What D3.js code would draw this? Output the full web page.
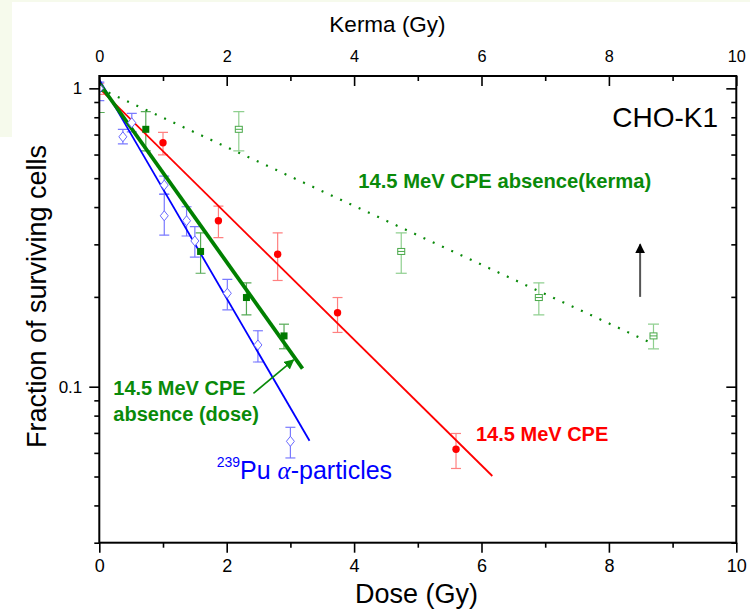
<!DOCTYPE html>
<html><head><meta charset="utf-8">
<script src="https://cdn.jsdelivr.net/npm/d3@7"></script>
<style>
html,body{margin:0;padding:0;background:#fff;}
svg{display:block;font-family:"Liberation Sans",Arial,sans-serif;}
</style></head>
<body><svg id="c" width="750" height="609"></svg>
<script>
// ---------- data ----------
const xTicks = [0, 2, 4, 6, 8, 10];
const xMinor = [1, 3, 5, 7, 9];
const yTicks = [1, 0.1];
const yTickLabels = ["1", "0.1"];
const yMinor = [0.9, 0.8, 0.7, 0.6, 0.5, 0.4, 0.3, 0.2, 0.09, 0.08, 0.07, 0.06, 0.05, 0.04, 0.03];

// 14.5 MeV CPE (red)
const cpeDose = [0, 1.0, 1.87, 2.80, 3.74, 5.60];
const cpeSurv = [1.0, 0.657, 0.36, 0.278, 0.177, 0.0617];
const cpeHi   = [1.04, 0.712, 0.403, 0.328, 0.199, 0.0697];
const cpeLo   = [0.955, 0.598, 0.316, 0.227, 0.152, 0.0532];
const cpeFit  = [[0, 1.0], [6.17, 0.0502]];

// 14.5 MeV CPE absence, dose (green, filled squares)
const absDose = [0, 0.73, 1.59, 2.31, 2.90];
const absSurv = [1.0, 0.729, 0.284, 0.199, 0.148];
const absHi   = [1.17, 0.835, 0.328, 0.223, 0.162];
const absLo   = [0.83, 0.617, 0.240, 0.174, 0.134];
const absFit  = [[0, 1.04], [3.19, 0.115]];

// 14.5 MeV CPE absence, kerma (green, open squares)
const kermaDose = [0, 2.19, 4.74, 6.90, 8.70];
const kermaSurv = [1.0, 0.729, 0.284, 0.199, 0.148];
const kermaHi   = [1.17, 0.835, 0.328, 0.223, 0.162];
const kermaLo   = [0.83, 0.617, 0.240, 0.174, 0.134];
const kermaFit  = [[0, 1.0], [8.67, 0.14]];

// 239Pu alpha-particles (blue, open diamonds)
const puDose = [0, 0.37, 0.51, 1.02, 1.02, 1.37, 1.50, 2.01, 2.49, 3.00];
const puSurv = [1.0, 0.688, 0.767, 0.474, 0.374, 0.36, 0.308, 0.2056, 0.138, 0.0656];
const puHi   = [1.05, 0.729, 0.824, 0.508, 0.441, 0.401, 0.344, 0.229, 0.154, 0.0731];
const puLo   = [0.91, 0.651, 0.715, 0.442, 0.322, 0.32, 0.272, 0.181, 0.121, 0.0577];
const puFit  = [[0, 1.07], [3.30, 0.0659]];

// annotation arrows (data coords)
const blackArrow = [[8.49, 0.20], [8.49, 0.30]];
const greenArrow = [[2.42, 0.095], [3.05, 0.123]];

// ---------- layout ----------
const L = 99.3, R = 736.3, T = 76, B = 542.7;
const x = d3.scaleLinear([0, 10], [L, R]);
const y = d3.scaleLog([0.03, 1.1], [B, T]);

const svg = d3.select("#c");
svg.append("rect").attr("x",0).attr("y",0).attr("width",12).attr("height",137).attr("fill","#f6faec");
svg.append("rect").attr("x",0).attr("y",0).attr("width",750).attr("height",2).attr("fill","#f6faec");

const defs = svg.append("defs");
defs.append("clipPath").attr("id","clip").append("rect")
  .attr("x",L).attr("y",T).attr("width",R-L).attr("height",B-T);
function marker(id, color){
  defs.append("marker").attr("id",id).attr("viewBox","0 0 10 10").attr("refX",9).attr("refY",5)
    .attr("markerWidth",10).attr("markerHeight",10).attr("markerUnits","userSpaceOnUse")
    .attr("orient","auto").append("path").attr("d","M0,0 L10,5 L0,10 z").attr("fill",color);
}
marker("ahBlack","#000");
marker("ahGreen","#0a8a0a");

const plot = svg.append("g").attr("clip-path","url(#clip)");

function errBars(xs, his, los, color, w){
  const g = plot.append("g").attr("stroke",color).attr("stroke-width",1.2).attr("fill","none");
  xs.forEach((d,i)=>{
    const cx = x(d), y1 = y(his[i]), y2 = y(los[i]);
    g.append("line").attr("x1",cx).attr("x2",cx).attr("y1",y1).attr("y2",y2);
    g.append("line").attr("x1",cx-w).attr("x2",cx+w).attr("y1",y1).attr("y2",y1);
    g.append("line").attr("x1",cx-w).attr("x2",cx+w).attr("y1",y2).attr("y2",y2);
  });
}
errBars(kermaDose, kermaHi, kermaLo, "#8fcf8f", 5.5);
errBars(cpeDose, cpeHi, cpeLo, "#ff8080", 5);
errBars(absDose, absHi, absLo, "#55aa55", 5);
errBars(puDose, puHi, puLo, "#7a7aff", 5);

const line = d3.line().x(d=>x(d[0])).y(d=>y(d[1]));
plot.append("path").attr("d",line(kermaFit)).attr("stroke","#0a8a0a").attr("stroke-width",2.2)
  .attr("stroke-dasharray","2,8.2").attr("fill","none");
plot.append("path").attr("d",line(cpeFit)).attr("stroke","#ff0000").attr("stroke-width",1.8).attr("fill","none");
plot.append("path").attr("d",line(puFit)).attr("stroke","#0000ff").attr("stroke-width",1.8).attr("fill","none");
plot.append("path").attr("d",line(absFit)).attr("stroke","#008000").attr("stroke-width",3.8).attr("fill","none");

// markers
kermaDose.forEach((d,i)=>{
  const cx=x(d), cy=y(kermaSurv[i]);
  plot.append("rect").attr("x",cx-3.5).attr("y",cy-3).attr("width",7).attr("height",6)
    .attr("fill","#fff").attr("stroke","#4aa84a").attr("stroke-width",1);
  plot.append("line").attr("x1",cx-3.5).attr("x2",cx+3.5).attr("y1",cy).attr("y2",cy)
    .attr("stroke","#4aa84a").attr("stroke-width",1);
});
cpeDose.forEach((d,i)=>{
  plot.append("circle").attr("cx",x(d)).attr("cy",y(cpeSurv[i])).attr("r",3.7).attr("fill","#ff0000");
});
absDose.forEach((d,i)=>{
  plot.append("rect").attr("x",x(d)-3.5).attr("y",y(absSurv[i])-3.5).attr("width",7).attr("height",7).attr("fill","#007a00");
});
puDose.forEach((d,i)=>{
  const cx=x(d), cy=y(puSurv[i]);
  plot.append("path").attr("d",`M${cx},${cy-5} L${cx+4},${cy} L${cx},${cy+5} L${cx-4},${cy} Z`)
    .attr("fill","#fff").attr("stroke","#6a6aff").attr("stroke-width",1);
});

// arrows
svg.append("line").attr("x1",x(blackArrow[0][0])).attr("y1",y(blackArrow[0][1]))
  .attr("x2",x(blackArrow[1][0])).attr("y2",y(blackArrow[1][1]))
  .attr("stroke","#555").attr("stroke-width",2).attr("marker-end","url(#ahBlack)");
svg.append("line").attr("x1",x(greenArrow[0][0])).attr("y1",y(greenArrow[0][1]))
  .attr("x2",x(greenArrow[1][0])).attr("y2",y(greenArrow[1][1]))
  .attr("stroke","#0a8a0a").attr("stroke-width",1.6).attr("marker-end","url(#ahGreen)");

// ---------- axes ----------
function style(size){ return g => { g.select(".domain").remove(); g.attr("font-size",size).attr("font-family","Liberation Sans, Arial, sans-serif");
  g.selectAll("line").attr("stroke","#000").attr("stroke-width",1.6);
  g.selectAll("text").attr("font-size",size).attr("fill","#000"); }; }
svg.append("g").attr("transform",`translate(0,${B})`)
  .call(d3.axisBottom(x).tickValues(xTicks).tickSize(10).tickPadding(7).tickFormat(d3.format("d"))).call(style(18));
svg.append("g").attr("transform",`translate(0,${B})`)
  .call(d3.axisBottom(x).tickValues(xMinor).tickSize(5).tickFormat("")).call(style(18));
svg.append("g").attr("transform",`translate(0,${T})`)
  .call(d3.axisTop(x).tickValues(xTicks).tickSize(-10).tickPadding(14).tickFormat(d3.format("d"))).call(style(16.3));
svg.append("g").attr("transform",`translate(0,${T})`)
  .call(d3.axisTop(x).tickValues(xMinor).tickSize(-5).tickFormat("")).call(style(16));
svg.append("g").attr("transform",`translate(${L},0)`)
  .call(d3.axisLeft(y).tickValues(yTicks).tickSize(10).tickPadding(7).tickFormat((d,i)=>yTickLabels[i])).call(style(17));
svg.append("g").attr("transform",`translate(${L},0)`)
  .call(d3.axisLeft(y).tickValues(yMinor).tickSize(5).tickFormat("")).call(style(17));
svg.append("g").attr("transform",`translate(${R},0)`)
  .call(d3.axisRight(y).tickValues(yTicks).tickSize(-10).tickFormat("")).call(style(17));
svg.append("g").attr("transform",`translate(${R},0)`)
  .call(d3.axisRight(y).tickValues(yMinor).tickSize(-5).tickFormat("")).call(style(17));

svg.append("rect").attr("x",L).attr("y",T).attr("width",R-L).attr("height",B-T)
  .attr("fill","none").attr("stroke","#000").attr("stroke-width",2);

// ---------- titles ----------
svg.append("text").attr("x",416.5).attr("y",603).attr("text-anchor","middle").attr("font-size",27).text("Dose (Gy)");
svg.append("text").attr("x",387.5).attr("y",32).attr("text-anchor","middle").attr("font-size",22.5).text("Kerma (Gy)");
svg.append("text").attr("transform","translate(46,296.5) rotate(-90)").attr("text-anchor","middle")
  .attr("font-size",27).text("Fraction of surviving cells");
svg.append("text").attr("x",718).attr("y",126.7).attr("text-anchor","end").attr("font-size",28).text("CHO-K1");

// ---------- series labels ----------
svg.append("text").attr("x",358.3).attr("y",188.3).attr("fill","#0a8a0a").attr("font-weight","bold").attr("font-size",20.2)
  .text("14.5 MeV CPE absence(kerma)");
svg.append("text").attr("x",476).attr("y",440.7).attr("fill","#ff0000").attr("font-weight","bold").attr("font-size",20)
  .text("14.5 MeV CPE");
svg.append("text").attr("x",113.3).attr("y",395).attr("fill","#0a8a0a").attr("font-weight","bold").attr("font-size",20)
  .text("14.5 MeV CPE");
svg.append("text").attr("x",113.3).attr("y",420.7).attr("fill","#0a8a0a").attr("font-weight","bold").attr("font-size",20)
  .text("absence (dose)");
const pu = svg.append("text").attr("x",216.7).attr("y",479.3).attr("fill","#0000ff").attr("font-size",25);
pu.append("tspan").attr("font-size",14).attr("dy",-12.5).text("239");
pu.append("tspan").attr("dy",12.5).text("Pu ");
pu.append("tspan").attr("font-family","Liberation Serif, serif").attr("font-style","italic").text("α");
pu.append("tspan").text("-particles");
</script></body></html>
